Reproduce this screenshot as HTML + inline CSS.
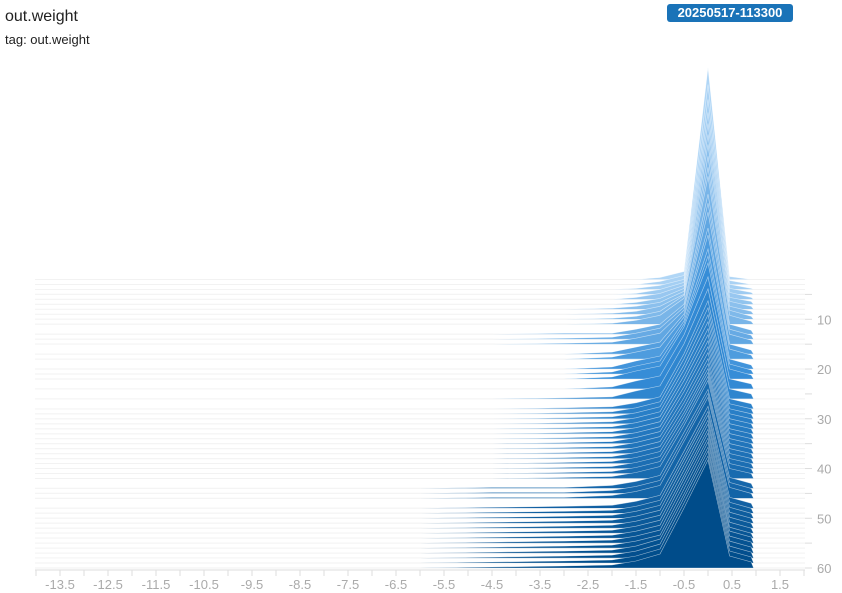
<!DOCTYPE html>
<html><head><meta charset="utf-8"><style>
body{margin:0;background:#fff;font-family:"Liberation Sans",Arial,sans-serif;}
#wrap{position:relative;width:842px;height:593px;overflow:hidden;}
.t1{position:absolute;left:5px;top:8px;font-size:16px;color:#212121;}
.t2{position:absolute;left:5px;top:32px;font-size:13px;color:#212121;}
.badge{position:absolute;left:667px;top:4px;width:126px;height:18px;background:#1a73b8;color:#fff;font-weight:bold;font-size:13px;line-height:18px;text-align:center;border-radius:3px;}
svg{position:absolute;left:0;top:0;}
</style></head><body>
<div id="wrap">
<div class="t1">out.weight</div>
<div class="t2">tag: out.weight</div>
<div class="badge">20250517-113300</div>
<svg id="chart" width="842" height="593"></svg>
</div>
<script>
const bins = [-6.0,-4.5,-3.0,-2.0,-1.5,-1.0,-0.5,0.0,0.45,0.9];
const steps = [2,3,4,5,6,7,8,9,10,11,13,14,15,17,18,20,21,22,24,26,28,29,30,31,32,33,34,35,36,37,38,39,40,41,42,44,45,46,48,49,50,51,52,53,54,55,56,57,58,59,60];
const counts = [
[0,0,0,0,0,2,8,212,3,0],
[0,0,0,0,0,3,9,200,4,0],
[0,0,0,0,1,4,10,190,5,1],
[0,0,0,0,1,5,12,182,6,2],
[0,0,0,0,2,6,14,176,7,2],
[0,0,0,0,2,6,16,170,7,3],
[0,0,0,1,3,7,18,165,8,3],
[0,0,0,1,3,8,20,158,8,3],
[0,0,0,1,3,8,24,152,9,3],
[0,0,0,1,4,9,26,148,9,3],
[0,0,1,1,5,10,30,140,10,4],
[0,0,1,2,6,11,32,136,10,4],
[0,0,1,2,6,11,34,132,10,4],
[0,0,0,2,7,12,40,126,10,4],
[0,0,0,2,7,12,42,124,10,4],
[0,0,0,2,8,13,48,120,10,4],
[0,0,0,2,8,13,50,118,10,4],
[0,0,0,2,8,13,52,116,10,4],
[0,0,0,2,8,13,54,112,10,5],
[0,0,1,2,8,13,55,110,10,5],
[0,0,1,2,6,12,55,108,10,5],
[0,0,1,2,6,12,55,106,10,5],
[0,0,1,2,6,12,54,104,10,5],
[0,0,1,2,6,12,54,102,10,5],
[0,0,1,2,6,12,53,100,10,5],
[0,0,1,2,6,12,53,99,10,5],
[0,0,1,2,6,12,52,98,10,5],
[0,0,1,2,6,12,52,97,10,5],
[0,0,1,2,6,12,51,96,10,5],
[0,0,1,2,6,12,51,95,10,5],
[0,0,1,2,6,12,51,95,10,5],
[0,0,1,2,6,12,51,95,10,5],
[0,0,1,2,6,12,52,96,10,5],
[0,0,1,2,6,12,52,97,10,5],
[0,0,1,2,6,12,53,98,10,5],
[0,1,1,3,7,13,56,99,11,5],
[0,1,1,3,7,13,56,100,11,5],
[0,1,1,3,7,13,57,101,11,5],
[0,1,2,3,7,13,57,102,11,5],
[0,1,2,3,7,13,57,102,11,5],
[0,1,2,3,7,13,58,103,11,5],
[0,1,2,3,7,13,58,103,11,5],
[0,1,2,3,7,13,58,104,11,5],
[0,1,2,3,7,13,58,104,11,5],
[0,1,2,3,7,13,59,105,11,5],
[0,1,2,3,7,13,59,105,12,6],
[0,1,2,3,7,13,59,106,12,6],
[0,1,2,3,7,14,59,106,12,6],
[0,1,2,3,7,14,60,107,12,6],
[0,1,2,3,7,14,60,107,12,6],
[0,1,2,3,7,14,60,108,12,6]
];
const xTicks = [-13.5,-12.5,-11.5,-10.5,-9.5,-8.5,-7.5,-6.5,-5.5,-4.5,-3.5,-2.5,-1.5,-0.5,0.5,1.5];
const yTicks = [10,20,30,40,50,60];

const NS='http://www.w3.org/2000/svg';
const svg=document.getElementById('chart');
const X0=35,X1=805;
function xS(v){return 60+(v+13.5)*48.0;}
function yS(s){return 279.5+(s-2)*(568-279.5)/58;}
function hS(c){return c*1.0;}
function mk(tag,attrs){const e=document.createElementNS(NS,tag);for(const k in attrs)e.setAttribute(k,attrs[k]);svg.appendChild(e);return e;}
function lerp(a,b,t){return a.map((v,i)=>Math.round(v+(b[i]-v)*t));}
function col(s){
  const c0=[176,214,246],c1=[52,140,215],c2=[0,76,138];
  const t=(s-2)/58;
  const c=t<0.35?lerp(c0,c1,t/0.35):lerp(c1,c2,(t-0.35)/0.65);
  return 'rgb('+c.join(',')+')';
}
const xa=mk('line',{x1:X0,y1:570,x2:X1,y2:570,stroke:'#ddd'});


for(let v=-14;v<=2.01;v+=0.5){
  const tk=mk('line',{x1:xS(v),y1:570,x2:xS(v),y2:576,stroke:'#ddd'});
  
  
}
xTicks.forEach(v=>{
  const t=mk('text',{x:xS(v),y:589,'text-anchor':'middle','font-size':'13',fill:'#aaa','font-family':'Liberation Sans, sans-serif'});
  t.textContent=v;
  
  
});
for(let s=5;s<=60;s+=5){
  const tk=mk('line',{x1:X1,y1:yS(s),x2:X1+7,y2:yS(s),stroke:'#ddd'});
  
  
}
yTicks.forEach(s=>{
  const t=mk('text',{x:817,y:yS(s)+5,'font-size':'13',fill:'#aaa','font-family':'Liberation Sans, sans-serif'});
  t.textContent=s;
  
  
});
steps.forEach((s,i)=>{
  const b=yS(s);
  const g=mk('line',{x1:X0,y1:b,x2:X1,y2:b,stroke:'#ececec'});
  
  
  let pts=[[X0,b]];
  bins.forEach((v,j)=>pts.push([xS(v),b-hS(counts[i][j])]));
  pts.push([xS(0.95),b],[X1,b]);
  const p=mk('path',{d:'M'+pts.map(q=>q[0].toFixed(1)+','+q[1].toFixed(1)).join('L')+'Z',fill:col(s),stroke:'rgba(255,255,255,0.6)','stroke-width':'0.6'});
  
  
});
</script>
</body></html>
